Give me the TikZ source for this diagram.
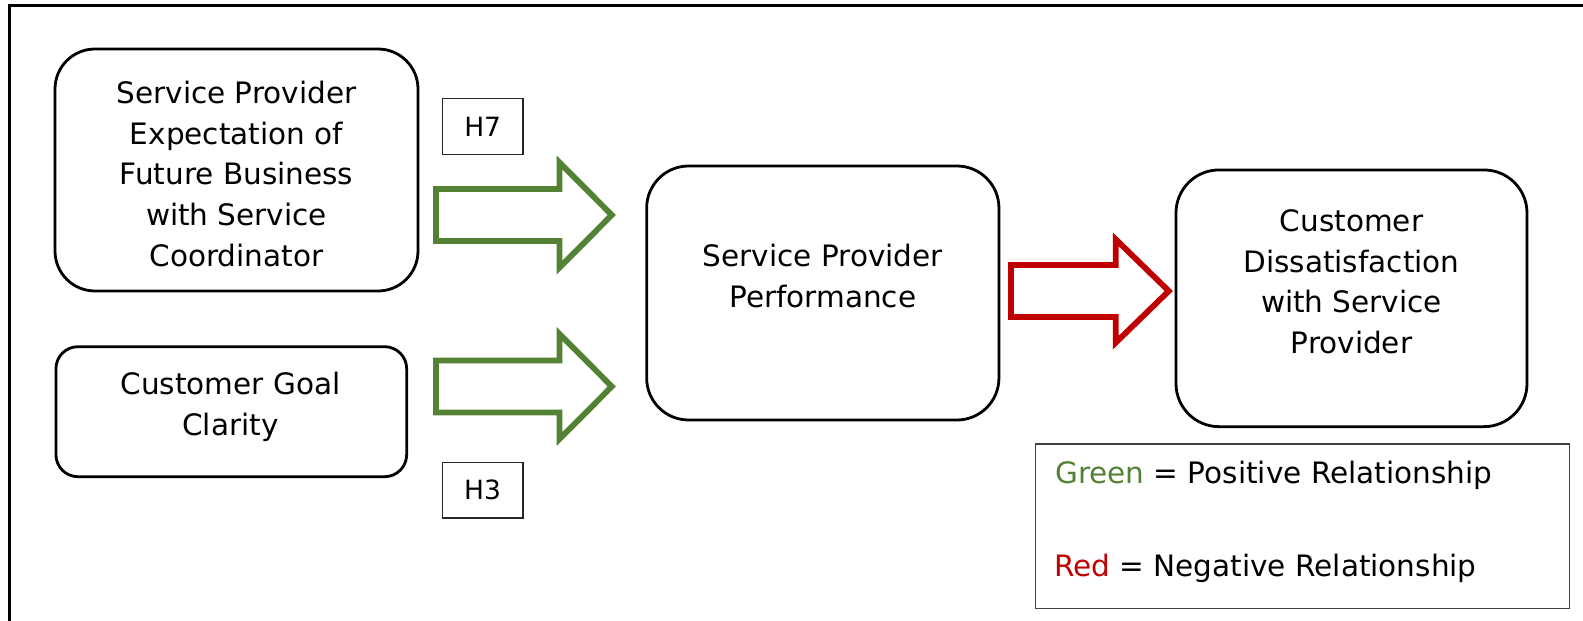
\documentclass[tikz,border=0pt]{standalone}
\usepackage{fontspec}
\setmainfont{DejaVu Sans}
\definecolor{posgreen}{RGB}{84,130,53}
\definecolor{negred}{RGB}{192,0,0}
\definecolor{legendline}{RGB}{64,64,64}
\begin{document}
\begin{tikzpicture}[x=1pt,y=-1pt,
  construct/.style={draw=black, line width=2.8pt, rectangle, inner sep=0pt},
  boxtext/.style={align=center, inner sep=0pt, font=\fontsize{29.5}{40.8}\selectfont},
  hyp/.style={draw=black!85, line width=1.3pt, rectangle, inner sep=0pt,
    minimum width=80.5pt, minimum height=55.5pt, font=\fontsize{26.5}{32}\selectfont},
  blockarrow/.style={line width=5.8pt, line join=miter, fill=white},
  legendtext/.style={anchor=base west, inner sep=0pt, font=\fontsize{29.5}{40.8}\selectfont}]
\useasboundingbox (0,0) rectangle (1583,621);

% page frame (top and left edges)
\draw[line width=3pt] (1583,5.3) -- (9,5.3) -- (9,621);

% constructs
\node[construct, minimum width=363pt, minimum height=242pt, rounded corners=40pt] (expect) at (236.5,170) {};
\node[construct, minimum width=350.7pt, minimum height=130pt, rounded corners=22pt] (goal) at (231.3,411.7) {};
\node[construct, minimum width=352.3pt, minimum height=254pt, rounded corners=42pt] (perf) at (822.8,293) {};
\node[construct, minimum width=351pt, minimum height=256.7pt, rounded corners=43pt] (dissat) at (1351.5,298.3) {};

\node[boxtext] (expect-t) at (236.5,176.8) {\strut Service Provider\\ \strut Expectation of\\ \strut Future Business\\ \strut with Service\\ \strut Coordinator};
\node[boxtext] (goal-t) at (230.5,406.8) {\strut Customer Goal\\ \strut Clarity};
\node[boxtext] (perf-t) at (822.8,279.2) {\strut Service Provider\\ \strut Performance};
\node[boxtext] (dissat-t) at (1351.5,284.3) {\strut Customer\\ \strut Dissatisfaction\\ \strut with Service\\ \strut Provider};

% hypothesis labels
\node[hyp] (h7) at (482.7,126.5) {H7};
\node[hyp] (h3) at (482.6,490.2) {H3};

% block arrows
\draw[blockarrow, draw=posgreen] (436,189) -- (559.5,189) -- (559.5,162.4) -- (611.8,215)
  -- (559.5,267.6) -- (559.5,241) -- (436,241) -- cycle;
\draw[blockarrow, draw=posgreen] (436,360.5) -- (559.5,360.5) -- (559.5,333.9) -- (611.8,386.5)
  -- (559.5,439.1) -- (559.5,412.5) -- (436,412.5) -- cycle;
\draw[blockarrow, draw=negred] (1011,265) -- (1115.8,265) -- (1115.8,239.4) -- (1168.8,291)
  -- (1115.8,342.6) -- (1115.8,317) -- (1011,317) -- cycle;

% legend
\node[draw=legendline, line width=1.3pt, rectangle, inner sep=0pt,
  minimum width=533.6pt, minimum height=164.3pt] (legend) at (1302.5,526.2) {};
\node[legendtext] (leg-pos) at (1055,483.3) {\textcolor{posgreen}{Green} = Positive Relationship};
\node[legendtext] (leg-neg) at (1054,576) {\textcolor{negred}{Red} = Negative Relationship};
\end{tikzpicture}
\end{document}
